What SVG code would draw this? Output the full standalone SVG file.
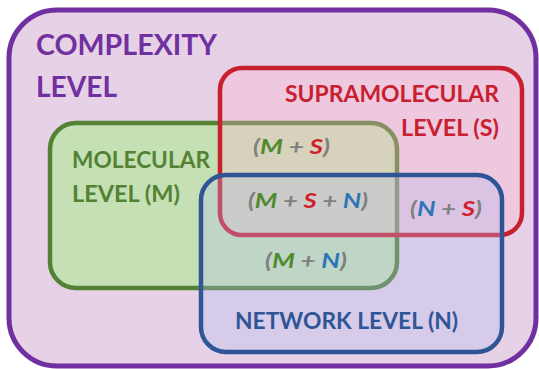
<svg xmlns="http://www.w3.org/2000/svg" width="539" height="369" viewBox="0 0 539 369">
<style>
.t{font-family:Lato,"Open Sans","DejaVu Sans",sans-serif;font-weight:bold}
.i{font-style:italic}
.g{fill:#7f7f7f}.m{fill:#4f8a2e}.s{fill:#d01f2a}.n{fill:#2e75b6}
</style>
<rect width="539" height="369" fill="#ffffff"/>
<g id="complexity">
<rect x="9" y="10" width="527" height="356" rx="48" fill="#e6d1e6" stroke="#7030a0" stroke-width="5"/>
<text class="t" x="36" y="55" font-size="29" fill="#7030a0" textLength="181" lengthAdjust="spacingAndGlyphs">COMPLEXITY</text>
<text class="t" x="36" y="97" font-size="29" fill="#7030a0" textLength="81" lengthAdjust="spacingAndGlyphs">LEVEL</text>
</g>
<g id="molecular">
<rect x="50" y="123" width="347" height="165" rx="26" fill="#c5e0b4" stroke="#548235" stroke-width="4.5"/>
<text class="t" x="72" y="168" font-size="22.5" fill="#548235" textLength="138" lengthAdjust="spacingAndGlyphs">MOLECULAR</text>
<text class="t" x="72" y="202" font-size="22.5" fill="#548235" textLength="108" lengthAdjust="spacingAndGlyphs">LEVEL (M)</text>
</g>
<g id="supramolecular">
<rect x="220" y="68" width="302" height="167" rx="22" fill="rgb(255,180,205)" fill-opacity="0.3" stroke="#c8202f" stroke-width="4.5"/>
<text class="t" x="285" y="102" font-size="22.5" fill="#c8202f" textLength="214" lengthAdjust="spacingAndGlyphs">SUPRAMOLECULAR</text>
<text class="t" x="401" y="136" font-size="22.5" fill="#c8202f" textLength="98" lengthAdjust="spacingAndGlyphs">LEVEL (S)</text>
</g>
<g id="network">
<rect x="201" y="175" width="301" height="177" rx="25" fill="rgb(180,190,240)" fill-opacity="0.3" stroke="#2f5597" stroke-width="4.5"/>
<text class="t" x="235" y="329" font-size="23" fill="#2f5597" textLength="223" lengthAdjust="spacingAndGlyphs">NETWORK LEVEL (N)</text>
</g>
<g id="labels">
<text class="t i g" x="253" y="154" font-size="21" textLength="77" lengthAdjust="spacingAndGlyphs">(<tspan class="m">M</tspan> + <tspan class="s">S</tspan>)</text>
<text class="t i g" x="248" y="208" font-size="21" textLength="120" lengthAdjust="spacingAndGlyphs">(<tspan class="m">M</tspan> + <tspan class="s">S</tspan> + <tspan class="n">N</tspan>)</text>
<text class="t i g" x="410" y="216" font-size="21" textLength="72" lengthAdjust="spacingAndGlyphs">(<tspan class="n">N</tspan> + <tspan class="s">S</tspan>)</text>
<text class="t i g" x="265" y="268" font-size="21" textLength="82" lengthAdjust="spacingAndGlyphs">(<tspan class="m">M</tspan> + <tspan class="n">N</tspan>)</text>
</g>
<g id="connectors"/>
</svg>
